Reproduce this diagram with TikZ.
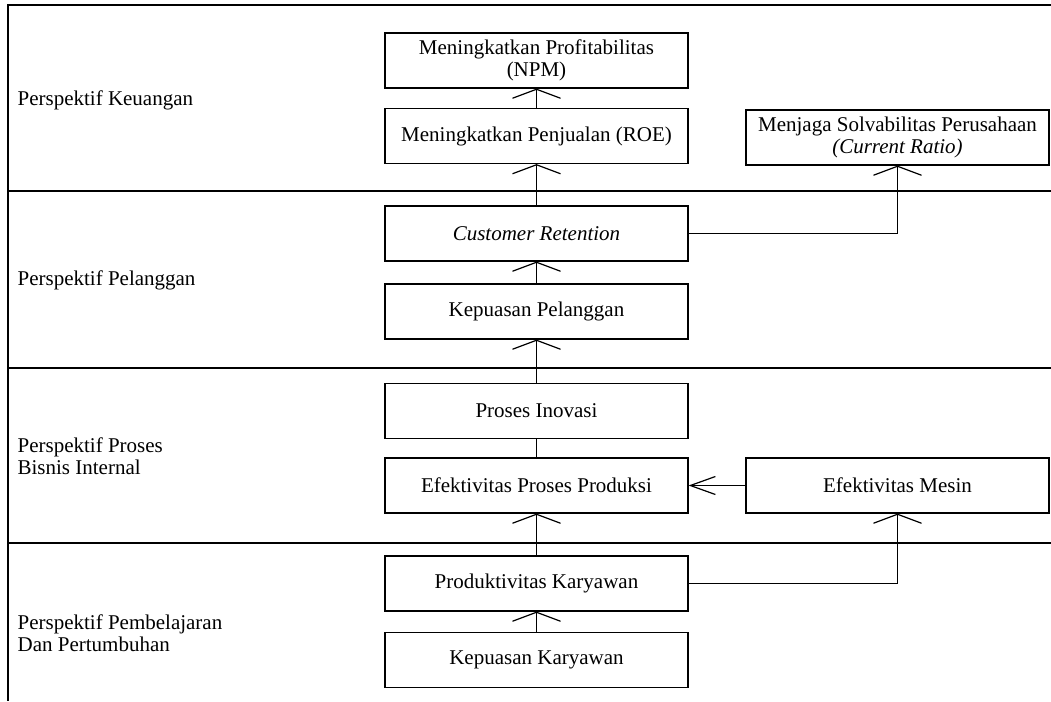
\documentclass[tikz,border=0pt]{standalone}
\usepackage{fontspec}
\setmainfont{Liberation Serif}
\usepackage{tikz}
\usetikzlibrary{arrows.meta, positioning}

\begin{document}
\begin{tikzpicture}[
    x=0.75pt, y=-0.75pt,
    font=\fontsize{15.75}{16.5}\selectfont,
    line width=0.9pt,
    box/.style={
      draw, align=center,
      minimum width=227.25pt,
      minimum height=41.25pt,
      inner sep=0pt
    },
    lbl/.style={anchor=west, align=left, inner sep=0pt},
    uparrow/.style={-{Straight Barb[length=6.75pt, width=36pt]}},
    leftarrow/.style={-{Straight Barb[length=18.75pt, width=13.5pt]}}
]
\useasboundingbox (0,0) rectangle (1051,701);

% --- Frame and rows ---
\draw (1051,5) -- (8,5) -- (8,701);
\foreach \y in {191, 368, 543}
  \draw (8,\y) -- (1051,\y);

% --- Row labels ---
\node[lbl] (lkeu) at (17,100) {Perspektif Keuangan};
\node[lbl] (lpel) at (17,280) {Perspektif Pelanggan};
\node[lbl] (lpro) at (17,456) {Perspektif Proses\\Bisnis Internal};
\node[lbl] (lpem) at (17,633) {Perspektif Pembelajaran\\Dan Pertumbuhan};

% --- Main column ---
\node[box] (npm)  at (536.5,60.5)  {Meningkatkan Profitabilitas\\(NPM)};
\node[box] (roe)  at (536.5,136)   {Meningkatkan Penjualan (ROE)};
\node[box] (cret) at (536.5,233.5) {\textit{Customer Retention}};
\node[box] (kpel) at (536.5,311.5) {Kepuasan Pelanggan};
\node[box] (inov) at (536.5,411)   {Proses Inovasi};
\node[box] (epp)  at (536.5,485.5) {Efektivitas Proses Produksi};
\node[box] (prod) at (536.5,583.5) {Produktivitas Karyawan};
\node[box] (kkar) at (536.5,660)   {Kepuasan Karyawan};

% --- Right column ---
\node[box] (cr) at (897.5,137.5) {Menjaga Solvabilitas Perusahaan\\\textit{(Current Ratio)}};
\node[box] (em) at (897.5,485.5) {Efektivitas Mesin};

% --- Arrows ---
\draw[uparrow] (roe) -- (npm);
\draw[uparrow] (cret) -- (roe);
\draw[uparrow] (cret.east) -| (cr.south);
\draw[uparrow] (kpel) -- (cret);
\draw[uparrow] (inov) -- (kpel);
\draw (epp) -- (inov);
\draw[leftarrow] (em) -- (epp);
\draw[uparrow] (prod) -- (epp);
\draw[uparrow] (prod.east) -| (em.south);
\draw[uparrow] (kkar) -- (prod);

\end{tikzpicture}
\end{document}
